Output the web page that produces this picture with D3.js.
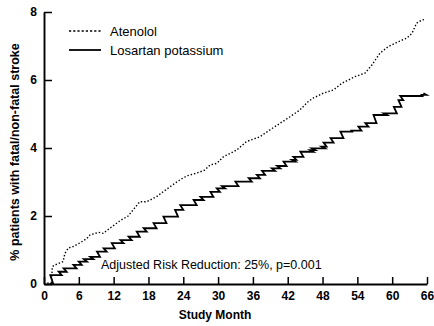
<!DOCTYPE html>
<html>
<head>
<meta charset="utf-8">
<script src="https://cdn.jsdelivr.net/npm/d3@7"></script>
<style>
  body { margin: 0; background: #fff; }
  svg { display: block; font-family: "Liberation Sans", Arial, sans-serif; }
  .tick-label { font-weight: bold; font-size: 12px; }
</style>
</head>
<body>
<div id="chart"></div>
<script>
(function(d3) {
'use strict';

// months / % values
var atenololMonth = [0, 1.3, 1.43, 1.9, 3.3, 3.6, 4.2, 5.0, 6.2, 7.4, 7.9, 9.4, 10.2, 10.8, 11.9, 13.1, 14.5, 16.5, 17.7, 19.4, 21.7, 23.4, 24.6, 26.3, 27.7, 28.6, 29.8, 30.9, 33.2, 34.9, 37.2, 38.9, 40.7, 42.4, 44.1, 45.5, 46.4, 48.1, 49.9, 51.3, 53.6, 55.3, 56.5, 57.9, 59.3, 61.1, 62.5, 63.4, 64.2, 65.1, 65.8];
var atenololPct = [0, 0.05, 0.51, 0.56, 0.66, 0.90, 1.06, 1.10, 1.21, 1.34, 1.44, 1.52, 1.49, 1.57, 1.71, 1.86, 2.0, 2.42, 2.42, 2.57, 2.86, 3.06, 3.18, 3.26, 3.35, 3.5, 3.55, 3.74, 3.94, 4.19, 4.33, 4.53, 4.73, 4.92, 5.12, 5.36, 5.47, 5.61, 5.71, 5.90, 6.10, 6.20, 6.44, 6.79, 6.98, 7.13, 7.23, 7.37, 7.67, 7.76, 7.79];

var losartanMonth = [1.0, 1.6, 2.5, 3.05, 3.9, 5.6, 6.5, 7.4, 8.5, 9.65, 10.8, 12.2, 13.7, 15.1, 16.5, 17.7, 19.4, 21.1, 22.6, 23.1, 24.0, 26.0, 26.3, 27.5, 29.2, 30.3, 31.2, 33.5, 35.5, 35.8, 37.2, 38.1, 39.8, 40.7, 41.8, 43.3, 43.5, 44.7, 46.4, 46.7, 48.4, 48.7, 49.9, 51.6, 53.3, 54.7, 55.9, 57.3, 59.1, 60.8, 61.6, 61.9, 65.4, 65.9];
var losartanPct = [0, 0.26, 0.26, 0.36, 0.46, 0.56, 0.66, 0.73, 0.80, 0.95, 1.05, 1.20, 1.29, 1.39, 1.54, 1.64, 1.79, 1.98, 1.98, 2.18, 2.32, 2.32, 2.47, 2.56, 2.71, 2.81, 2.88, 3.01, 3.01, 3.11, 3.21, 3.33, 3.40, 3.47, 3.60, 3.65, 3.74, 3.89, 3.94, 3.99, 4.04, 4.16, 4.29, 4.48, 4.51, 4.63, 4.73, 4.97, 5.02, 5.21, 5.41, 5.53, 5.56, 5.61];

var xTicks = [0, 6, 12, 18, 24, 30, 36, 42, 48, 54, 60, 66];
var yTicks = [0, 2, 4, 6, 8];
var seriesNames = ['Atenolol', 'Losartan potassium'];
var note = 'Adjusted Risk Reduction: 25%, p=0.001';

var width = 434, height = 326;
var margin = {left: 44, right: 7, top: 12, bottom: 42};

var svg = d3.select('#chart')
  .append('svg')
  .attr('width', width)
  .attr('height', height);

var x = d3.scaleLinear().domain([0, 66]).range([margin.left, width - margin.right]);
var y = d3.scaleLinear().domain([0, 8]).range([height - margin.bottom, margin.top]);

var atenolol = atenololMonth.map(function(m, i) { return [m, atenololPct[i]]; });
var losartan = losartanMonth.map(function(m, i) { return [m, losartanPct[i]]; });

// axes, ticks pointing inward
var xAxis = svg.append('g')
  .attr('transform', 'translate(0,' + y(0) + ')')
  .call(d3.axisBottom(x).tickValues(xTicks).tickSizeInner(-7).tickSizeOuter(0).tickPadding(7));
var yAxis = svg.append('g')
  .attr('transform', 'translate(' + x(0) + ',0)')
  .call(d3.axisLeft(y).tickValues(yTicks).tickSizeInner(-8).tickSizeOuter(0).tickPadding(7));

[xAxis, yAxis].forEach(function(ax) {
  ax.attr('font-family', null).attr('font-size', null);
  ax.select('.domain').attr('stroke', '#000').attr('stroke-width', 1.9);
  ax.selectAll('.tick line').attr('stroke', '#000').attr('stroke-width', 1.5);
  ax.selectAll('.tick text')
    .attr('class', 'tick-label')
    .attr('fill', '#000');
});

// step line with slanted risers, as drawn in the figure
function zigzag(points) {
  var p = d3.path();
  p.moveTo(x(points[0][0]), y(points[0][1]));
  for (var i = 1; i < points.length; i++) {
    var px = x(points[i][0]);
    p.lineTo(px, y(points[i - 1][1]));
    p.lineTo(px - 3, y(points[i][1]));
  }
  return p.toString();
}

var line = d3.line()
  .x(function(d) { return x(d[0]); })
  .y(function(d) { return y(d[1]); });

svg.append('path')
  .datum(atenolol)
  .attr('d', line)
  .attr('fill', 'none')
  .attr('stroke', '#000')
  .attr('stroke-width', 1.4)
  .attr('stroke-dasharray', '1.4,2');

svg.append('path')
  .attr('d', zigzag(losartan))
  .attr('fill', 'none')
  .attr('stroke', '#000')
  .attr('stroke-width', 1.8)
  .attr('stroke-linejoin', 'miter');

// legend
var legend = svg.append('g').attr('transform', 'translate(69,31)');
seriesNames.forEach(function(name, i) {
  var g = legend.append('g').attr('transform', 'translate(0,' + (i * 19) + ')');
  g.append('line')
    .attr('x1', 0).attr('x2', 32)
    .attr('stroke', '#000')
    .attr('stroke-width', i === 0 ? 1.4 : 1.8)
    .attr('stroke-dasharray', i === 0 ? '2.2,2' : null);
  g.append('text')
    .attr('x', 41)
    .attr('dy', '0.35em')
    .attr('font-size', 13)
    .text(name);
});

svg.append('text')
  .attr('x', 101)
  .attr('y', 269)
  .attr('font-size', 12.5)
  .text(note);

svg.append('text')
  .attr('x', 215)
  .attr('y', 319)
  .attr('text-anchor', 'middle')
  .attr('font-size', 12)
  .attr('font-weight', 'bold')
  .text('Study Month');

svg.append('text')
  .attr('transform', 'translate(19,152) rotate(-90)')
  .attr('text-anchor', 'middle')
  .attr('font-size', 12.5)
  .attr('font-weight', 'bold')
  .text('% patients with fatal/non-fatal stroke');

})(window.d3);
</script>
</body>
</html>
